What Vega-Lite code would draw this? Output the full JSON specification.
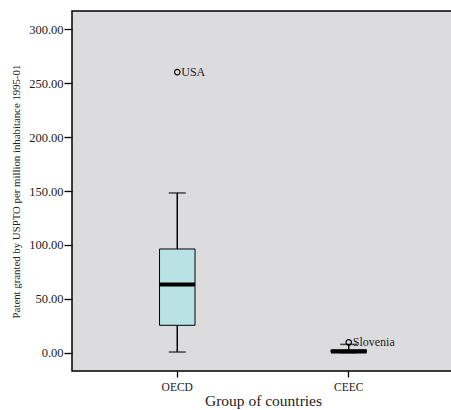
{
  "$schema": "https://vega.github.io/schema/vega-lite/v6.json",
  "width": 382,
  "height": 360,
  "autosize": "none",
  "padding": {"left": 72, "top": 11, "right": 0, "bottom": 39},
  "background": "white",
  "config": {
    "view": {"fill": "#dcdcde", "stroke": "black", "strokeWidth": 1.5},
    "font": "Liberation Serif",
    "axis": {"labelFont": "Liberation Serif", "titleFont": "Liberation Serif", "labelColor": "#222222", "titleColor": "#222222", "tickColor": "black", "tickWidth": 1.3, "domain": false, "grid": false, "titleFontWeight": "normal"}
  },
  "datasets": {
    "boxes": [
      {"group": "OECD", "lower": 0.6, "q1": 25.4, "median": 63.2, "q3": 96.2, "upper": 148.2},
      {"group": "CEEC", "lower": 0.0, "q1": 0.3, "median": 1.2, "q3": 2.6, "upper": 7.7}
    ],
    "outliers": [
      {"group": "OECD", "value": 260.3, "label": "USA"},
      {"group": "CEEC", "value": 9.6, "label": "Slovenia"}
    ]
  },
  "encoding": {
    "x": {
      "field": "group", "type": "nominal", "sort": ["OECD", "CEEC"],
      "scale": {"paddingInner": 0, "paddingOuter": 0.114},
      "axis": {"title": "Group of countries", "labelAngle": 0, "tickSize": 6, "labelFont": "Liberation Serif", "labelFontSize": 11.5, "labelPadding": 4, "titleFont": "Liberation Serif", "titleFontSize": 15.5, "titlePadding": 1}
    }
  },
  "layer": [
    {
      "data": {"name": "boxes"},
      "mark": {"type": "rule", "color": "black", "strokeWidth": 1.5},
      "encoding": {
        "y": {"field": "lower", "type": "quantitative",
          "scale": {"domain": [-17, 317], "nice": false, "zero": false},
          "axis": {"title": "Patent granted by USPTO per million inhabitance 1995-01", "values": [0, 50, 100, 150, 200, 250, 300], "format": ".2f", "tickSize": 8, "labelFont": "Liberation Serif", "labelFontSize": 12.5, "labelPadding": 1, "titleFont": "Liberation Serif", "titleFontSize": 10.8, "titlePadding": 7}},
        "y2": {"field": "upper"}
      }
    },
    {
      "data": {"name": "boxes"},
      "mark": {"type": "tick", "color": "black", "size": 17, "thickness": 1.5},
      "encoding": {"y": {"field": "upper", "type": "quantitative"}}
    },
    {
      "data": {"name": "boxes"},
      "mark": {"type": "tick", "color": "black", "size": 17, "thickness": 1.5},
      "encoding": {"y": {"field": "lower", "type": "quantitative"}}
    },
    {
      "data": {"name": "boxes"},
      "mark": {"type": "bar", "size": 35.5, "fill": "#b8e2e4", "stroke": "black", "strokeWidth": 1},
      "encoding": {
        "y": {"field": "q1", "type": "quantitative"},
        "y2": {"field": "q3"}
      }
    },
    {
      "data": {"name": "boxes"},
      "mark": {"type": "tick", "color": "black", "size": 35.5, "thickness": 4, "opacity": 1},
      "encoding": {"y": {"field": "median", "type": "quantitative"}}
    },
    {
      "data": {"name": "outliers"},
      "mark": {"type": "point", "shape": "circle", "filled": false, "stroke": "black", "strokeWidth": 1.2, "size": 30, "opacity": 1},
      "encoding": {"y": {"field": "value", "type": "quantitative"}}
    },
    {
      "data": {"name": "outliers"},
      "mark": {"type": "text", "align": "left", "baseline": "middle", "dx": 4, "fontSize": 12, "color": "#222222", "font": "Liberation Serif"},
      "encoding": {
        "y": {"field": "value", "type": "quantitative"},
        "text": {"field": "label"}
      }
    }
  ]
}
